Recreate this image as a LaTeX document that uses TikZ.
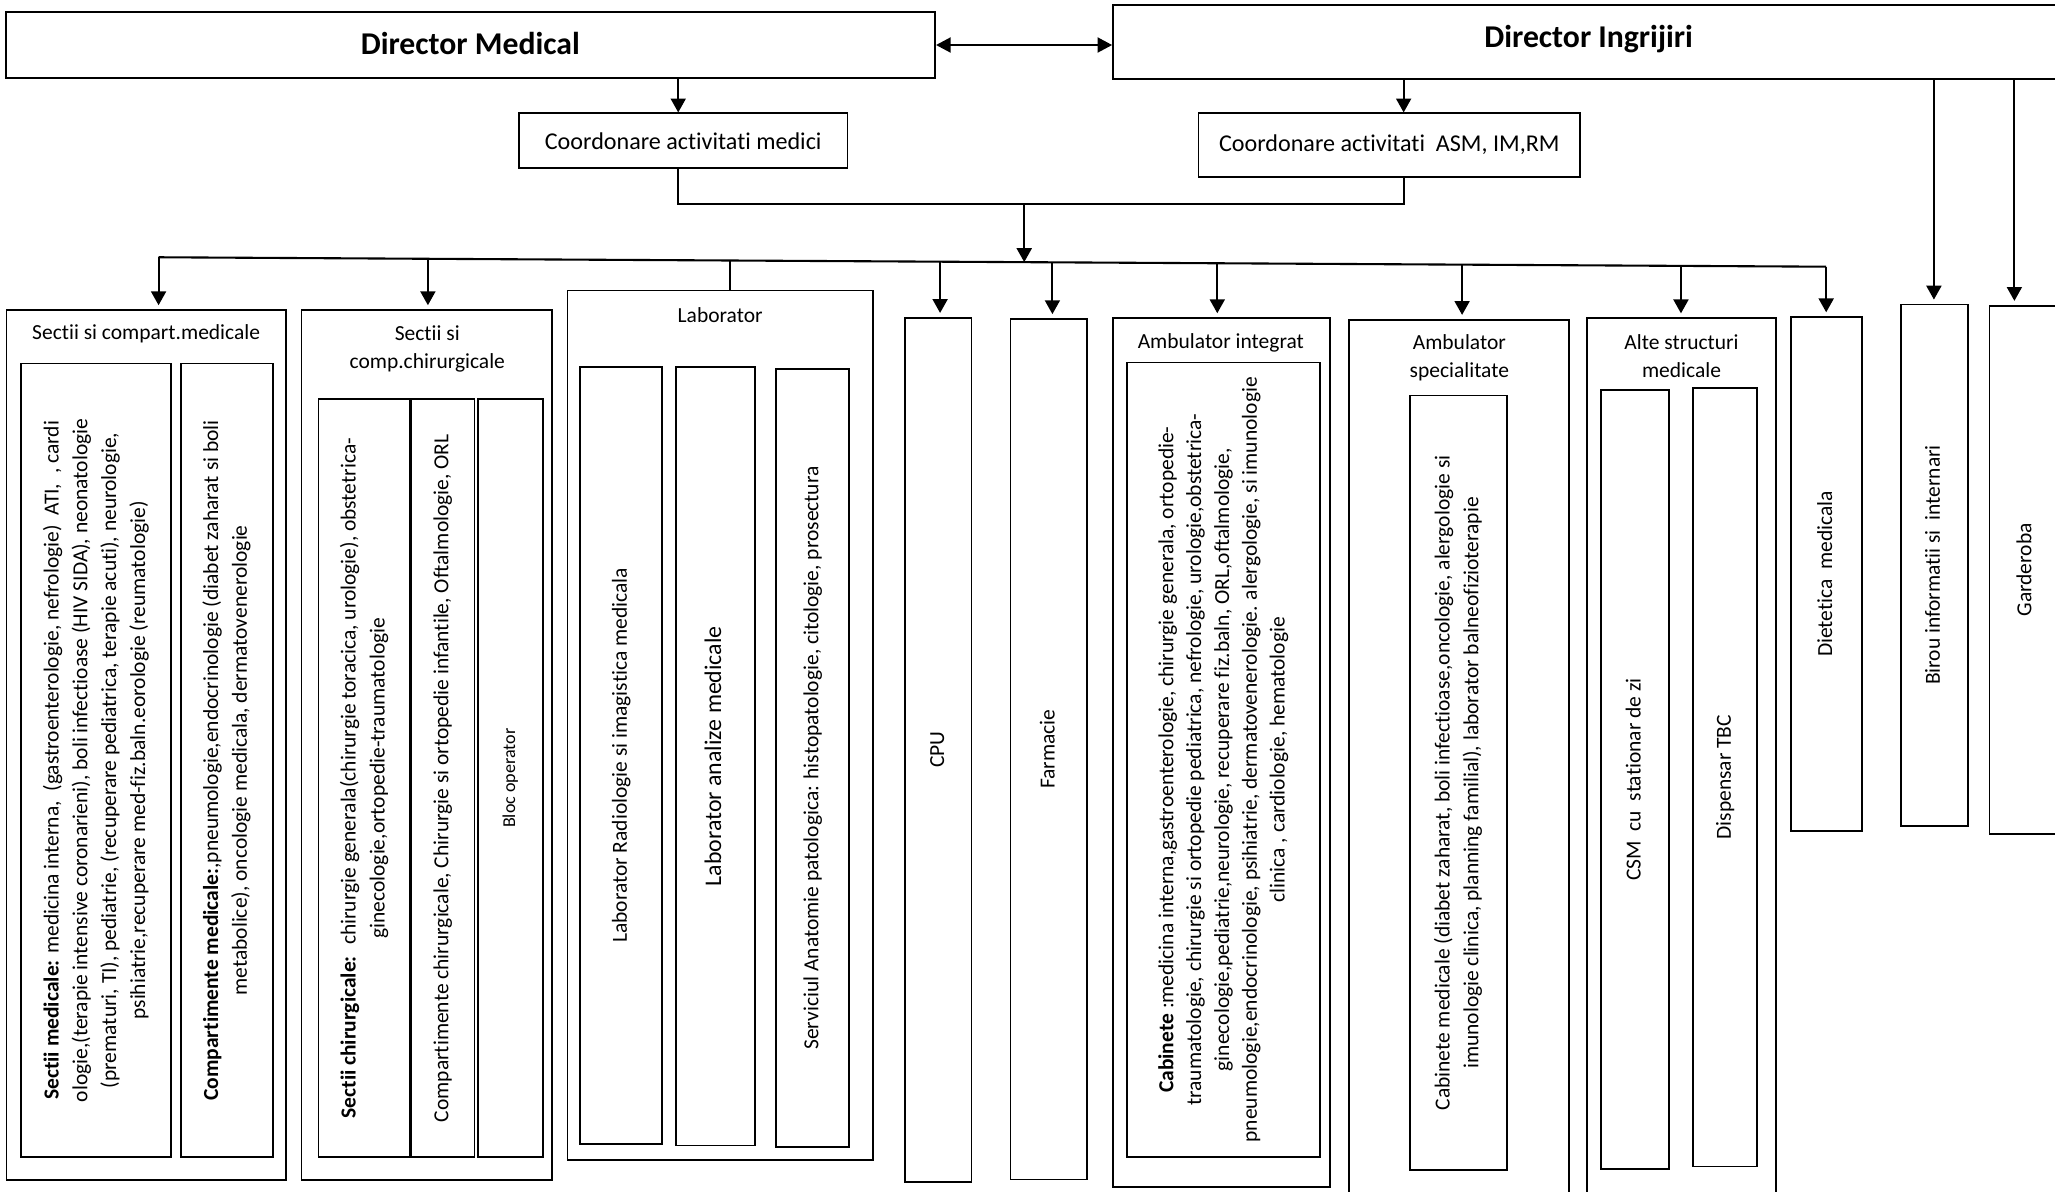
\documentclass[tikz,border=0pt]{standalone}
\usepackage{graphicx}
\usepackage{fontspec}
\setmainfont{Carlito}[Ligatures={NoCommon}]
\usetikzlibrary{arrows.meta,calc}
\newcommand\rtx[3][8.2]{\rotatebox{90}{\fontsize{#1}{#2}\selectfont\begin{tabular}{@{}c@{}}#3\end{tabular}}}
% box node from corner coordinates (in picture units of 0.5pt)
\newcommand\bnode[7][]{\node[bx,#1,minimum width={(#5-#3)*0.5pt},minimum height={(#6-#4)*0.5pt}] (#2) at ({(#3+#5)/2},{(#4+#6)/2}) {#7};}
\begin{document}
\begin{tikzpicture}[x=0.5pt,y=-0.5pt,
  bx/.style={draw, line width=0.7pt, inner sep=0pt, anchor=center},
  conn/.style={line width=0.8pt},
  arr/.style={conn, -{Triangle[length=5.3pt,width=5.7pt]}, shorten >=1.5pt},
  dblarr/.style={line width=0.9pt, {Triangle[length=5.6pt,width=5.7pt]}-{Triangle[length=5.6pt,width=5.7pt]}},
  ttl/.style={font=\fontsize{8.2}{10.8}\selectfont, align=center, inner sep=0pt},
]
\clip (0,0) rectangle (1568,909);
\fill[white] (0,0) rectangle (1568,909);

% directors
\bnode{dirM}{4.3}{8.9}{713.5}{59.8}{\raisebox{1pt}{\fontsize{12.1}{14}\selectfont\bfseries Director Medical}}
\bnode{dirI}{849.3}{3.8}{1575}{60.3}{\raisebox{4pt}{\fontsize{12.1}{14}\selectfont\bfseries Director Ingrijiri}}
\draw[dblarr] (dirM.east) -- (dirM.east -| dirI.west);

% coordination
\bnode{cmed}{396}{86.5}{646.6}{128.4}{\fontsize{9.2}{11}\selectfont Coordonare activitati medici}
\bnode{casm}{914.5}{86.5}{1205.6}{134.8}{\raisebox{1.8pt}{\fontsize{9.2}{11}\selectfont Coordonare activitati~ ASM, IM,RM}}

\coordinate (a1) at (517.5,0);
\coordinate (a2) at (1071,0);
\draw[arr,shorten >=0pt] (dirM.south -| a1) -- (cmed.north -| a1);
\draw[arr,shorten >=0pt] (dirI.south -| a2) -- (casm.north -| a2);
\coordinate (b2) at (1071,155.7);
\draw[conn] (cmed.south -| a1) |- (b2) -- (casm.south -| a2);
\coordinate (bm) at (781.5,155.7);
\coordinate (jm) at (781.5,200.0);
\draw[arr,shorten >=0pt] (bm) -- (jm);

% distribution line
\coordinate (dL) at (121,196.3);
\coordinate (dR) at (1393.4,203.5);
\draw[conn] (dL) -- (dR);
\coordinate (j2) at (326.5,197.5);
\coordinate (j3) at (556.7,198.8);
\coordinate (j4) at (717.3,199.7);
\coordinate (j5) at (803,200.2);
\coordinate (j6) at (928.8,200.9);
\coordinate (j7) at (1115.6,201.9);
\coordinate (j8) at (1282.6,202.9);

% Sectii si compart.medicale
\bnode{secmed}{4.9}{236.6}{218}{900.5}{}
\node[ttl] (secmedT) at (111.5,255) {Sectii si compart.medicale};
\bnode{smA}{15.8}{277.4}{130.7}{883}{\rtx{11}{\textbf{Sectii medicale:} medicina interna,~ (gastroenterologie, nefrologie)~ ATI,~ , cardi\\
ologie,(terapie intensive coronarieni), boli infectioase (HIV SIDA), neonatologie\\
(prematuri, TI), pediatrie, (recuperare pediatrica, terapie acuti), neurologie,\\
psihiatrie,recuperare med-fiz.baln.eorologie (reumatologie)}}
\bnode{smB}{138}{277.4}{208}{883}{\rtx{11}{\textbf{Compartimente medicale:},pneumologie,endocrinologie (diabet zaharat si boli\\
metabolice), oncologie medicala, dermatovenerologie}}

% Sectii si comp.chirurgicale
\bnode{secchir}{230}{236.6}{421}{900.5}{}
\node[ttl] (secchirT) at (326,266) {Sectii si\\comp.chirurgicale};
\bnode{scC}{243}{304.6}{313}{883}{\rtx{11}{\textbf{Sectii chirurgicale:}~ chirurgie generala(chirurgie toracica, urologie), obstetrica-\\
ginecologie,ortopedie-traumatologie}}
\bnode{scD}{313.5}{304.6}{362}{883}{\rtx{11}{Compartimente chirurgicale, Chirurgie si ortopedie infantile, Oftalmologie, ORL}}
\bnode{scE}{365}{304.6}{414}{883}{\rtx[6.9]{9}{Bloc operator}}

% Laborator
\bnode{lab}{433}{221.6}{666}{885}{}
\node[ttl] (labT) at (549.5,240.5) {Laborator};
\bnode{labA}{442.5}{280}{505.3}{873}{\rtx{11}{Laborator Radiologie si imagistica medicala}}
\bnode{labB}{515.8}{280}{575.8}{874}{\rtx[9.1]{11}{Laborator analize medicale}}
\bnode{labC}{592}{281.6}{648}{875}{\rtx{11}{Serviciul Anatomie patologica: histopatologie, citologie, prosectura}}

% CPU, Farmacie
\bnode{cpu}{690.6}{242.5}{741.3}{901.6}{\rtx{11}{CPU}}
\bnode{farm}{771}{243.4}{829.4}{900}{\rtx{11}{Farmacie}}

% Ambulator integrat
\bnode{ambi}{849}{242.7}{1014.8}{906}{}
\node[ttl] (ambiT) at (931.5,261.5) {Ambulator integrat};
\bnode{ambiA}{860}{276.6}{1007}{882.7}{\rtx{10.6}{\textbf{Cabinete} :medicina interna,gastroenterologie, chirurgie generala, ortopedie-\\
traumatologie, chirurgie si ortopedie pediatrica, nefrologie, urologie,obstetrica-\\
ginecologie,pediatrie,neurologie, recuperare fiz.baln, ORL,oftalmologie,\\
pneumologie,endocrinologie, psihiatrie, dermatovenerologie. alergologie, si imunologie\\
clinica , cardiologie, hematologie}}

% Ambulator specialitate
\bnode{ambs}{1029.5}{244}{1197.4}{930}{}
\node[ttl] (ambsT) at (1113.5,273) {Ambulator\\specialitate};
\bnode{ambsA}{1075.8}{301.8}{1149.6}{893}{\rtx{11}{Cabinete medicale (diabet zaharat, boli infectioase,oncologie, alergologie si\\
imunologie clinica, planning familial), laborator balneofizioterapie}}

% Alte structuri medicale
\bnode{alte}{1211}{242.8}{1355}{930}{}
\node[ttl] (alteT) at (1283,271.5) {Alte structuri\\medicale};
\bnode{csm}{1221.6}{297.4}{1273.2}{892}{\rtx{11}{CSM~ cu~ stationar de zi}}
\bnode{disp}{1292}{296}{1340.4}{890}{\rtx{11}{Dispensar TBC}}

% right column
\bnode{diet}{1366.3}{242}{1420.7}{634}{\rtx{11}{Dietetica~ medicala}}
\bnode{birou}{1450.2}{232.3}{1501.4}{630}{\rtx{11}{Birou informatii si~ internari}}
\bnode{gard}{1518}{233.3}{1573}{636.4}{\rtx{11}{Garderoba}}

% drops from distribution line
\draw[arr] (dL) -- (dL |- secmed.north);
\draw[arr] (j2) -- (j2 |- secchir.north);
\draw[conn] (j3) -- (j3 |- lab.north);
\draw[arr] (j4) -- (j4 |- cpu.north);
\draw[arr] (j5) -- (j5 |- farm.north);
\draw[arr] (j6) -- (j6 |- ambi.north);
\draw[arr] (j7) -- (j7 |- ambs.north);
\draw[arr] (j8) -- (j8 |- alte.north);
\draw[arr] (dR) -- (dR |- diet.north);

% drops from Director Ingrijiri
\coordinate (k1) at (1475.6,0);
\coordinate (k2) at (1537,0);
\draw[arr] (dirI.south -| k1) -- (birou.north -| k1);
\draw[arr] (dirI.south -| k2) -- (gard.north -| k2);
\end{tikzpicture}
\end{document}
